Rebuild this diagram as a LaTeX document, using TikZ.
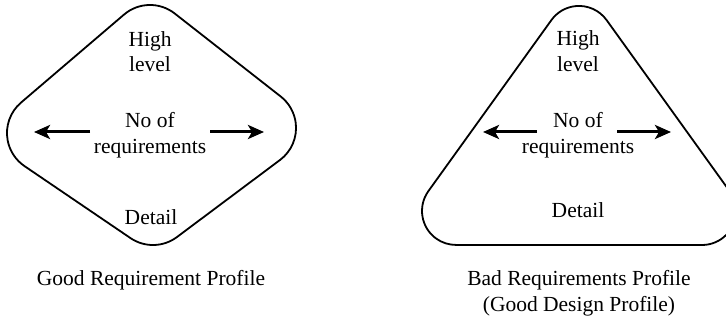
\documentclass[tikz,border=0pt]{standalone}
\usepackage{fontspec}
\setmainfont{Liberation Serif}
\usetikzlibrary{arrows.meta}
\begin{document}
\begin{tikzpicture}[x=1pt,y=-1pt,
  outline/.style={line width=1.8pt, line join=round},
  lbl/.style={font=\fontsize{21.5}{25}\selectfont, inner sep=0pt, anchor=base},
  arr/.style={line width=3pt, -{Stealth[length=16pt,width=14pt,inset=4pt]}}]
\useasboundingbox (0,0) rectangle (726,323);
% Good profile: rounded diamond
\draw[outline] (124.0,14.6) -- (21.0,102.6)
  arc[start angle=229.5, end angle=124.2, radius=40] -- (130.5,238.1)
  arc[start angle=124.2, end angle=53.2, radius=40] -- (280.0,160.0)
  arc[start angle=53.2, end angle=-51.9, radius=40] -- (174.7,13.5)
  arc[start angle=-51.9, end angle=-130.5, radius=40] -- cycle;
% Bad profile: rounded triangle
\draw[outline] (551.4,20.1) -- (428.4,191.1)
  arc[start angle=215.7, end angle=90, radius=34] -- (702,245)
  arc[start angle=90, end angle=-35.7, radius=34] -- (606.6,20.1)
  arc[start angle=-35.7, end angle=-144.3, radius=34] -- cycle;
% texts left
\node[lbl] (gh) at (150,46.5) {High};
\node[lbl] (gl) at (150,72) {level};
\node[lbl] (gn) at (150,128) {No of};
\node[lbl] (gr) at (150,154) {requirements};
\node[lbl] (gd) at (151,225) {Detail};
% texts right
\node[lbl] (bh) at (578,46) {High};
\node[lbl] (bl) at (578,71.5) {level};
\node[lbl] (bn) at (578,128) {No of};
\node[lbl] (br) at (578,153.5) {requirements};
\node[lbl] (bd) at (578,218) {Detail};
% captions
\node[lbl] (gc) at (151,286) {Good Requirement Profile};
\node[lbl] (bc1) at (579,286) {Bad Requirements Profile};
\node[lbl] (bc2) at (579,312) {(Good Design Profile)};
% arrows
\coordinate (ga1) at (90,132);  \coordinate (ga2) at (34,132);
\coordinate (ga3) at (210,132); \coordinate (ga4) at (264,132);
\coordinate (ba1) at (537,132); \coordinate (ba2) at (483,132);
\coordinate (ba3) at (617,132); \coordinate (ba4) at (671,132);
\draw[arr] (ga1) -- (ga2);
\draw[arr] (ga3) -- (ga4);
\draw[arr] (ba1) -- (ba2);
\draw[arr] (ba3) -- (ba4);
\end{tikzpicture}
\end{document}
